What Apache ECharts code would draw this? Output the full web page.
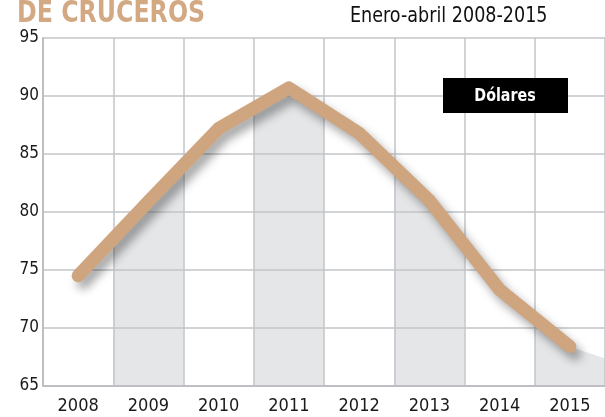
<!DOCTYPE html>
<html>
<head>
<meta charset="utf-8">
<script src="https://cdn.jsdelivr.net/npm/echarts@6/dist/echarts.min.js"></script>
<style>
  html, body { margin: 0; padding: 0; background: #fff; }
  #main { width: 605px; height: 417px; }
</style>
</head>
<body>
<div id="main"></div>
<script>
// datos: precio medio (dolares), enero-abril
var years = ['2008', '2009', '2010', '2011', '2012', '2013', '2014', '2015'];
var prices = [74.5, 80.9, 87.2, 90.7, 86.8, 81.0, 73.3, 68.4];
var yTicks = [65, 70, 75, 80, 85, 90, 95];
var shadedCols = [1, 3, 5, 7];   // columnas grises (2009, 2011, 2013, 2015)

var narrow = "'DejaVu Sans Condensed', 'Liberation Sans Narrow', sans-serif";
var myChart = echarts.init(document.getElementById('main'));

var option = {
  animation: false,
  backgroundColor: '#fff',
  grid: { left: 43, right: -3, top: 38, bottom: 31 },
  xAxis: {
    type: 'category',
    data: years,
    boundaryGap: true,
    axisLine: { show: true, lineStyle: { color: '#bdbfc2', width: 2 } },
    axisTick: { show: false },
    axisLabel: { color: '#1a1a1a', fontSize: 18, fontFamily: narrow, margin: 11 },
    splitLine: { show: true, interval: 0, lineStyle: { color: '#c3c5c7', width: 1.5 } },
    z: 3
  },
  yAxis: {
    type: 'value',
    min: yTicks[0],
    max: yTicks[yTicks.length - 1],
    interval: 5,
    axisLine: { show: true, lineStyle: { color: '#bdbfc2', width: 2 } },
    axisTick: { show: false },
    axisLabel: { color: '#1a1a1a', fontSize: 17, fontFamily: narrow, margin: 4 },
    splitLine: { show: true, lineStyle: { color: '#c3c5c7', width: 1.5 } },
    z: 3
  },
  graphic: [{
    type: 'text',
    x: 17, y: -2,
    scaleX: 0.85,
    style: {
      text: 'DE CRUCEROS', fill: '#d3a983', fontSize: 31, fontWeight: 'bold',
      fontFamily: narrow, align: 'left', verticalAlign: 'top'
    }
  }, {
    type: 'text',
    x: 350, y: 6,
    scaleX: 0.93,
    style: {
      text: 'Enero-abril 2008-2015', fill: '#111', fontSize: 21,
      fontFamily: narrow, align: 'left', verticalAlign: 'top'
    }
  }, {
    type: 'rect',
    shape: { x: 443, y: 78, width: 125, height: 35 },
    style: { fill: '#000' },
    z: 10
  }, {
    type: 'text',
    x: 505, y: 96,
    scaleX: 0.88,
    style: {
      text: 'Dólares', fill: '#fff', fontSize: 18, fontWeight: 'bold',
      fontFamily: narrow, align: 'center', verticalAlign: 'middle'
    },
    z: 11
  }],
  series: [{
    // sombreado gris bajo la curva en columnas alternas
    type: 'custom',
    z: -1,
    silent: true,
    data: shadedCols.map(function (i) { return [i]; }),
    renderItem: function (params, api) {
      var i = api.value(0);
      var n = prices.length;
      var bw = api.size([1, 0])[0];
      var leftV = i > 0 ? (prices[i - 1] + prices[i]) / 2 : prices[i];
      var rightV = i < n - 1 ? (prices[i] + prices[i + 1]) / 2 : prices[i];
      var c = api.coord([i, prices[i]]);
      var l = api.coord([i, leftV]);
      var r = api.coord([i, rightV]);
      var base = api.coord([i, yTicks[0]]);
      var pts = [
        [l[0] - bw / 2, l[1]],
        c,
        [r[0] + bw / 2, r[1] + (i === n - 1 ? 12 : 0)],
        [r[0] + bw / 2, base[1]],
        [l[0] - bw / 2, base[1]]
      ];
      return { type: 'polygon', shape: { points: pts }, style: { fill: '#e5e6e8' } };
    }
  }, {
    type: 'line',
    data: prices,
    symbol: 'none',
    z: 5,
    lineStyle: {
      color: '#cfa57f',
      width: 13,
      cap: 'round',
      join: 'round',
      shadowColor: 'rgba(0,0,0,0.35)',
      shadowBlur: 10,
      shadowOffsetX: 5,
      shadowOffsetY: 7
    }
  }]
};
myChart.setOption(option);
</script>
</body>
</html>
